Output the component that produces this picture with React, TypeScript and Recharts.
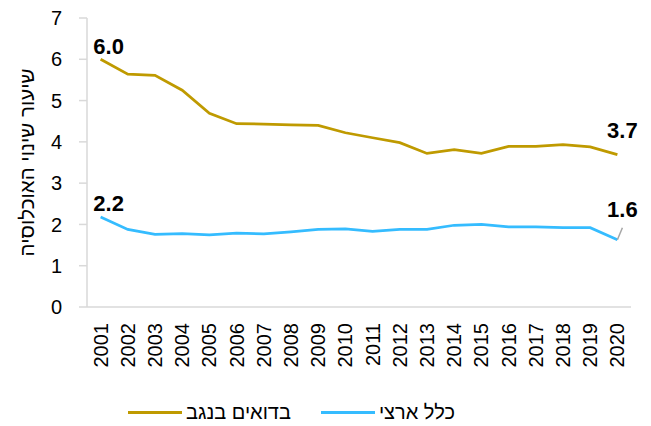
import { LineChart, Line, XAxis, YAxis, LabelList } from "recharts";

const YEARS = [
  "2001", "2002", "2003", "2004", "2005", "2006", "2007", "2008", "2009", "2010",
  "2011", "2012", "2013", "2014", "2015", "2016", "2017", "2018", "2019", "2020",
];

// Bedouin in the Negev
const BEDOUIN = [
  6.0, 5.64, 5.61, 5.25, 4.69, 4.44, 4.43, 4.41, 4.4, 4.22,
  4.1, 3.98, 3.72, 3.81, 3.72, 3.89, 3.89, 3.93, 3.88, 3.69,
];

// national total
const NATIONAL = [
  2.18, 1.88, 1.76, 1.78, 1.75, 1.79, 1.77, 1.82, 1.88, 1.89,
  1.83, 1.88, 1.88, 1.98, 2.0, 1.94, 1.94, 1.92, 1.92, 1.63,
];

const Y_TICKS = [0, 1, 2, 3, 4, 5, 6, 7];

const SERIES = [
  { key: "bedouin", name: "בדואים בנגב", color: "#BF9A00" },
  { key: "national", name: "כלל ארצי", color: "#35BCFF" },
];

const Y_TITLE = "שיעור שינוי האוכלוסיה";

const FONT = "'Liberation Sans', 'DejaVu Sans', sans-serif";
const AXIS_COLOR = "#D9D9D9";

const data = YEARS.map((year, i) => ({
  year,
  bedouin: BEDOUIN[i],
  national: NATIONAL[i],
}));

const lastIndex = YEARS.length - 1;

function EndLabel(props: any) {
  const { x, y, value, index, leader } = props;
  if (x == null || y == null) return null;
  if (index !== 0 && index !== lastIndex) return null;

  const first = index === 0;
  const lx = first ? x + 8 : x + 5;
  const ly = first ? y - 5.5 : leader ? y - 23 : y - 17;

  return (
    <g>
      {leader && !first && (
        <line x1={x} y1={y} x2={x + 5} y2={y - 12} stroke="#A6A6A6" strokeWidth={1.5} />
      )}
      <text
        x={lx}
        y={ly}
        textAnchor="middle"
        fontFamily={FONT}
        fontSize={22}
        fontWeight={700}
        fill="#000"
      >
        {Number(value).toFixed(1)}
      </text>
    </g>
  );
}

function YearTick({ x, y, payload }: any) {
  return (
    <g transform={`translate(${x},${y})`}>
      <text
        transform="rotate(-90)"
        x={-16}
        y={0}
        dy={7}
        textAnchor="end"
        fontFamily={FONT}
        fontSize={20}
        fill="#000"
      >
        {payload.value}
      </text>
    </g>
  );
}

function YTitle({ viewBox }: any) {
  const cx = viewBox.x + 26;
  const cy = viewBox.y + viewBox.height / 2;
  return (
    <text
      x={cx}
      y={cy}
      transform={`rotate(-90, ${cx}, ${cy})`}
      textAnchor="middle"
      dominantBaseline="central"
      fontFamily={FONT}
      fontSize={20.5}
      fill="#000"
    >
      {Y_TITLE}
    </text>
  );
}

export default function App() {
  return (
    <div style={{ position: "absolute", left: 0, top: 0, width: 651, height: 426, background: "#fff" }}>
      <LineChart
        width={651}
        height={426}
        data={data}
        margin={{ top: 18, right: 20, bottom: 59, left: 0 }}
      >
        <XAxis
          dataKey="year"
          height={60}
          interval={0}
          padding={{ left: 13.6, right: 13.6 }}
          tickLine={false}
          tickSize={0}
          tickMargin={0}
          axisLine={{ stroke: AXIS_COLOR, strokeWidth: 1.5 }}
          tick={<YearTick />}
        />
        <YAxis
          width={87}
          domain={[0, 7]}
          ticks={Y_TICKS}
          interval={0}
          tickSize={8}
          tickMargin={17}
          tickLine={{ stroke: AXIS_COLOR, strokeWidth: 1.5 }}
          axisLine={{ stroke: AXIS_COLOR, strokeWidth: 1.5 }}
          tick={{ fill: "#000", fontSize: 20, fontFamily: FONT }}
          label={<YTitle />}
        />
        {SERIES.map((s) => (
          <Line
            key={s.key}
            type="linear"
            dataKey={s.key}
            name={s.name}
            stroke={s.color}
            strokeWidth={2.75}
            dot={false}
            activeDot={false}
            isAnimationActive={false}
          >
            <LabelList
              dataKey={s.key}
              content={(p: any) => <EndLabel {...p} leader={s.key === "national"} />}
            />
          </Line>
        ))}
      </LineChart>

      <div
        style={{
          position: "absolute",
          left: 128,
          top: 401,
          display: "flex",
          alignItems: "center",
          fontFamily: FONT,
          fontSize: 20,
          color: "#000",
          whiteSpace: "nowrap",
        }}
      >
        {SERIES.map((s, i) => (
          <span
            key={s.key}
            style={{ display: "flex", alignItems: "center", marginLeft: i === 0 ? 0 : 30 }}
          >
            <span style={{ display: "inline-block", width: 54, height: 3, background: s.color, marginRight: 4 }} />
            <span dir="rtl">{s.name}</span>
          </span>
        ))}
      </div>
    </div>
  );
}
